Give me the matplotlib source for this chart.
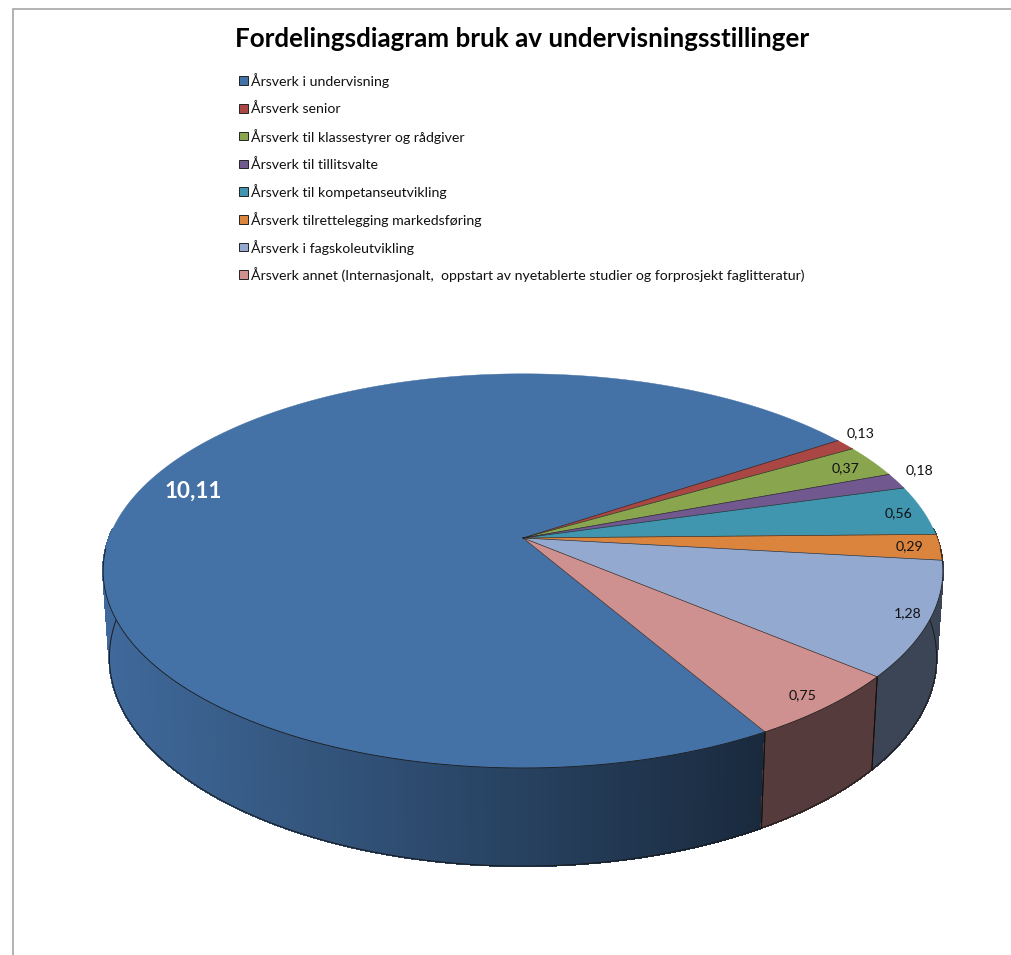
import numpy as np
import matplotlib
matplotlib.use('Agg')
import matplotlib.pyplot as plt
from matplotlib.collections import PolyCollection
from matplotlib.patches import Polygon, Rectangle

plt.rcParams['font.family'] = ['Lato', 'DejaVu Sans']

title = 'Fordelingsdiagram bruk av undervisningsstillinger'
categories = [
    'Årsverk i undervisning',
    'Årsverk senior',
    'Årsverk til klassestyrer og rådgiver',
    'Årsverk til tillitsvalte',
    'Årsverk til kompetanseutvikling',
    'Årsverk tilrettelegging markedsføring',
    'Årsverk i fagskoleutvikling',
    'Årsverk annet (Internasjonalt,  oppstart av nyetablerte studier og forprosjekt faglitteratur)',
]
values = [10.11, 0.13, 0.37, 0.18, 0.56, 0.29, 1.28, 0.75]
labels = ['10,11', '0,13', '0,37', '0,18', '0,56', '0,29', '1,28', '0,75']
colors = ['#4471A6', '#AA4643', '#89A54E', '#71588F', '#3F96AE', '#DB843D', '#93A9CF', '#CF9190']

# how far out each label sits (fraction of radius) and small nudges in px
label_r = [0.87, 1.07, 0.80, 1.07, 0.90, 0.92, 0.90, 0.82]
label_nudge = [(10, -10), (-5, -5), (40, -8), (-2, -7), (15, 0), (3, 0), (21, 2), (36, 22)]

# perspective of the pie, in pixels
cx, cy = 523, 538
a, b, k = 414, 191.6, 0.167
depth = 84.6
shrink = 0.985
start_angle = -60.0


def top_xy(t, r=1.0):
    X, Y = r * np.cos(t), r * np.sin(t)
    w = 1 + k * Y
    return cx + a * X / w, cy - b * Y / w


def low_xy(t):
    Y = np.sin(t)
    w = 1 + k * Y
    x = cx + shrink * a * np.cos(t) / w
    y = cy - shrink * b * Y / w + depth / w
    return x, y


def side_shade(i, x):
    if i == 0:
        return np.clip(0.93 - (x - 105) * 0.00085, 0, 1)
    return 0.41


fig = plt.figure(figsize=(10.12, 9.55), dpi=100)
ax = fig.add_axes([0, 0, 1, 1])
ax.set_xlim(0, 1012)
ax.set_ylim(955, 0)
ax.axis('off')

# chart frame, only top and left are in the crop
ax.plot([13, 13, 1012], [955, 9, 9], color='#A6A6A6', lw=1.2, solid_joinstyle='miter')

ax.text(522, 39, title, ha='center', va='center', fontsize=18.75, fontweight='bold', color='black')

for n, name in enumerate(categories):
    y = 81 + n * 27.7
    ax.add_patch(Rectangle((239.5, y - 4.5), 8.5, 8.5, facecolor=colors[n], edgecolor='#222222', lw=0.7))
    ax.text(251, y, name, ha='left', va='center', fontsize=10.2, color='#111111')

fractions = np.array(values) / sum(values)
sweeps = fractions * 2 * np.pi
ends = np.radians(start_angle) - np.cumsum(sweeps)
starts = ends + sweeps

# sides first
for i in range(len(values)):
    ts = np.linspace(starts[i], ends[i], max(int(np.degrees(sweeps[i]) * 2), 4))
    ts_front = ts[np.sin(ts) < 0.05]
    if len(ts_front) < 2:
        continue
    quads, cols = [], []
    for t0, t1 in zip(ts_front[:-1], ts_front[1:]):
        x0, y0 = top_xy(t0)
        x1, y1 = top_xy(t1)
        x2, y2 = low_xy(t1)
        x3, y3 = low_xy(t0)
        quads.append([(x0, y0), (x1, y1), (x2, y2), (x3, y3)])
        s = side_shade(i, (x0 + x1) / 2)
        cols.append(tuple(s * c for c in matplotlib.colors.to_rgb(colors[i])))
    ax.add_collection(PolyCollection(quads, facecolors=cols, edgecolors=cols, linewidths=0.8,
                                     antialiaseds=False, zorder=2))
    lx, ly = low_xy(ts_front)
    ax.plot(lx, ly, color='#1a1a1a', lw=0.7, zorder=3)
    for t in (ts_front[0], ts_front[-1]):
        if np.sin(t) < -0.3:
            tx, ty = top_xy(t)
            bx, by = low_xy(t)
            ax.plot([tx, bx], [ty, by], color='#111111', lw=0.7, zorder=3)

# then the top face
for i in range(len(values)):
    ts = np.linspace(starts[i], ends[i], max(int(np.degrees(sweeps[i]) * 2), 4))
    xs, ys = top_xy(ts)
    pts = [(cx, cy)] + list(zip(xs, ys))
    ax.add_patch(Polygon(pts, closed=True, facecolor=colors[i], edgecolor=colors[i], lw=0.3,
                         joinstyle='round', zorder=5))
    # dark seams between slices, rim only on the front
    ex, ey = top_xy(starts[i])
    ax.plot([cx, ex], [cy, ey], color='#222222', lw=0.45, zorder=5.5)
    front = ts[np.sin(ts) < -0.05]
    if len(front) > 1:
        fx, fy = top_xy(front)
        ax.plot(fx, fy, color='#1a1a1a', lw=0.6, zorder=5.5)

for i in range(len(values)):
    mid = (starts[i] + ends[i]) / 2
    x, y = top_xy(mid, label_r[i])
    x += label_nudge[i][0]
    y += label_nudge[i][1]
    if i == 0:
        ax.text(x, y, labels[i], ha='center', va='center', fontsize=16.2, fontweight='bold',
                color='white', zorder=6)
    else:
        ax.text(x, y, labels[i], ha='center', va='center', fontsize=10.2, color='#111111', zorder=6)

fig.savefig('out.png', dpi=100)
